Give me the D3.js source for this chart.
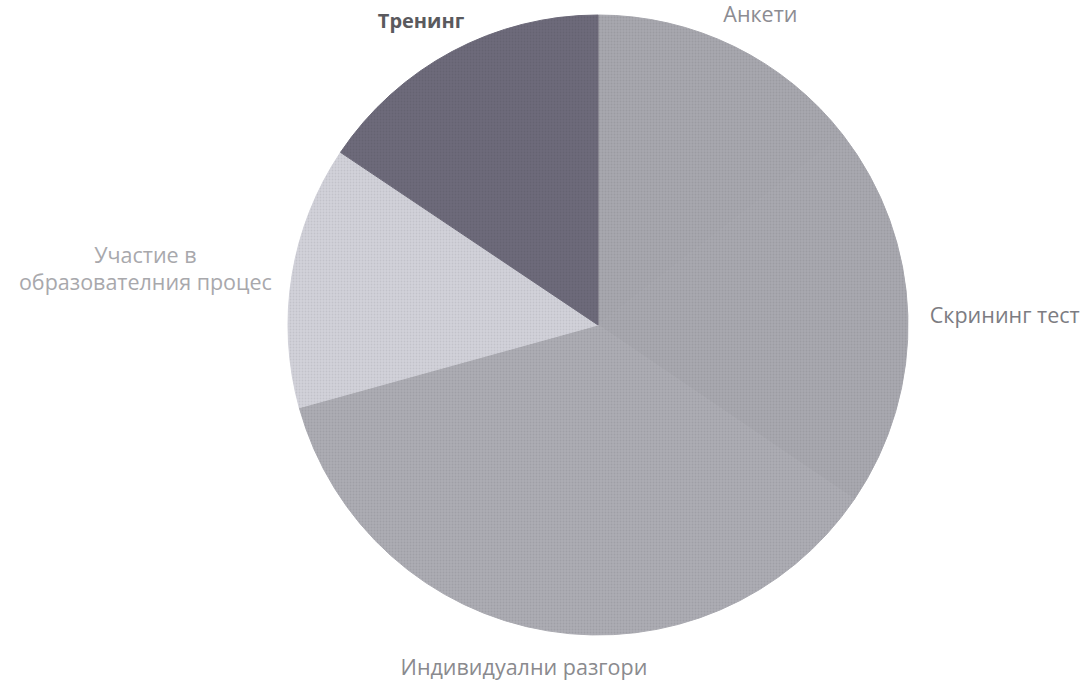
<!DOCTYPE html>
<html>
<head>
<meta charset="utf-8">
<script src="https://cdn.jsdelivr.net/npm/d3@7"></script>
<style>
    body { margin: 0; background: #fff; }
    svg { display: block; }
</style>
</head>
<body>
<svg id="svg_pie" width="1081" height="680"></svg>
<script>
"use strict";

//// data
const categories = ["Анкети", "Скрининг тест", "Индивидуални разгори", "Участие в образователния процес", "Тренинг"];
const values = [14.5, 20, 36.2, 13.7, 15.6];
const labelLines = [["Анкети"], ["Скрининг тест"], ["Индивидуални разгори"], ["Участие в", "образователния процес"], ["Тренинг"]];

(function () {
    const cx = 598, cy = 325;
    const radius = 310, labelGap = 332;

    const svg = d3.select("#svg_pie");

    //// slice colours, greys like the scanned print
    const colorScale = d3.scaleOrdinal()
        .domain(categories)
        .range(["#a8a8af", "#a9a9b0", "#adadb4", "#d3d3db", "#6e6b7b"]);
    const labelColor = d3.scaleOrdinal()
        .domain(categories)
        .range(["#8c8c92", "#7c7c82", "#8a8a8e", "#a8a8ac", "#5a5a5e"]);

    //// halftone texture
    const defs = svg.append("defs");
    const pattern = defs.append("pattern")
        .attr("id", "dots")
        .attr("width", 3).attr("height", 3)
        .attr("patternUnits", "userSpaceOnUse");
    pattern.append("circle")
        .attr("cx", 1.5).attr("cy", 1.5).attr("r", 0.9)
        .attr("fill", "#000").attr("opacity", 0.08);

    const pie = d3.pie()
        .sort(null)
        .value(function(d) { return d; });
    const arcs = pie(values);

    const arc = d3.arc().innerRadius(0).outerRadius(radius);

    const g = svg.append("g")
        .attr("transform", "translate(" + cx + "," + cy + ")");

    g.selectAll(".slice")
        .data(arcs)
        .enter().append("path")
            .attr("class", "slice")
            .attr("d", arc)
            .attr("fill", function(d, i) { return colorScale(categories[i]); })
            .attr("stroke", function(d, i) { return colorScale(categories[i]); }) // hide seams
            .attr("stroke-width", 1);

    g.append("circle")
        .attr("r", radius)
        .attr("fill", "url(#dots)");

    //// labels outside each slice, box pushed out along the mid angle
    const labels = g.selectAll(".label")
        .data(arcs)
        .enter().append("text")
            .attr("class", "label")
            .attr("text-anchor", "middle")
            .style("font-family", "'Open Sans', sans-serif")
            .style("font-size", function(d, i) { return i === 4 ? "20px" : "21.5px"; })
            .style("font-weight", function(d, i) { return i === 4 ? "bold" : "normal"; })
            .attr("fill", function(d, i) { return labelColor(categories[i]); });

    labels.each(function(d, i) {
        const lines = labelLines[i];
        const t = d3.select(this);
        lines.forEach(function(line, j) {
            t.append("tspan")
                .attr("x", 0)
                .attr("dy", j === 0 ? "0em" : "1.25em")
                .text(line);
        });
        const box = this.getBBox();
        const a = (d.startAngle + d.endAngle) / 2;
        const px = labelGap * Math.sin(a), py = -labelGap * Math.cos(a);
        const bx = px + box.width / 2 * Math.sin(a);
        const by = py - box.height / 2 * Math.cos(a);
        t.attr("transform", "translate(" + (bx - (box.x + box.width / 2)) + "," + (by - (box.y + box.height / 2)) + ")");
    });
})();
</script>
</body>
</html>
